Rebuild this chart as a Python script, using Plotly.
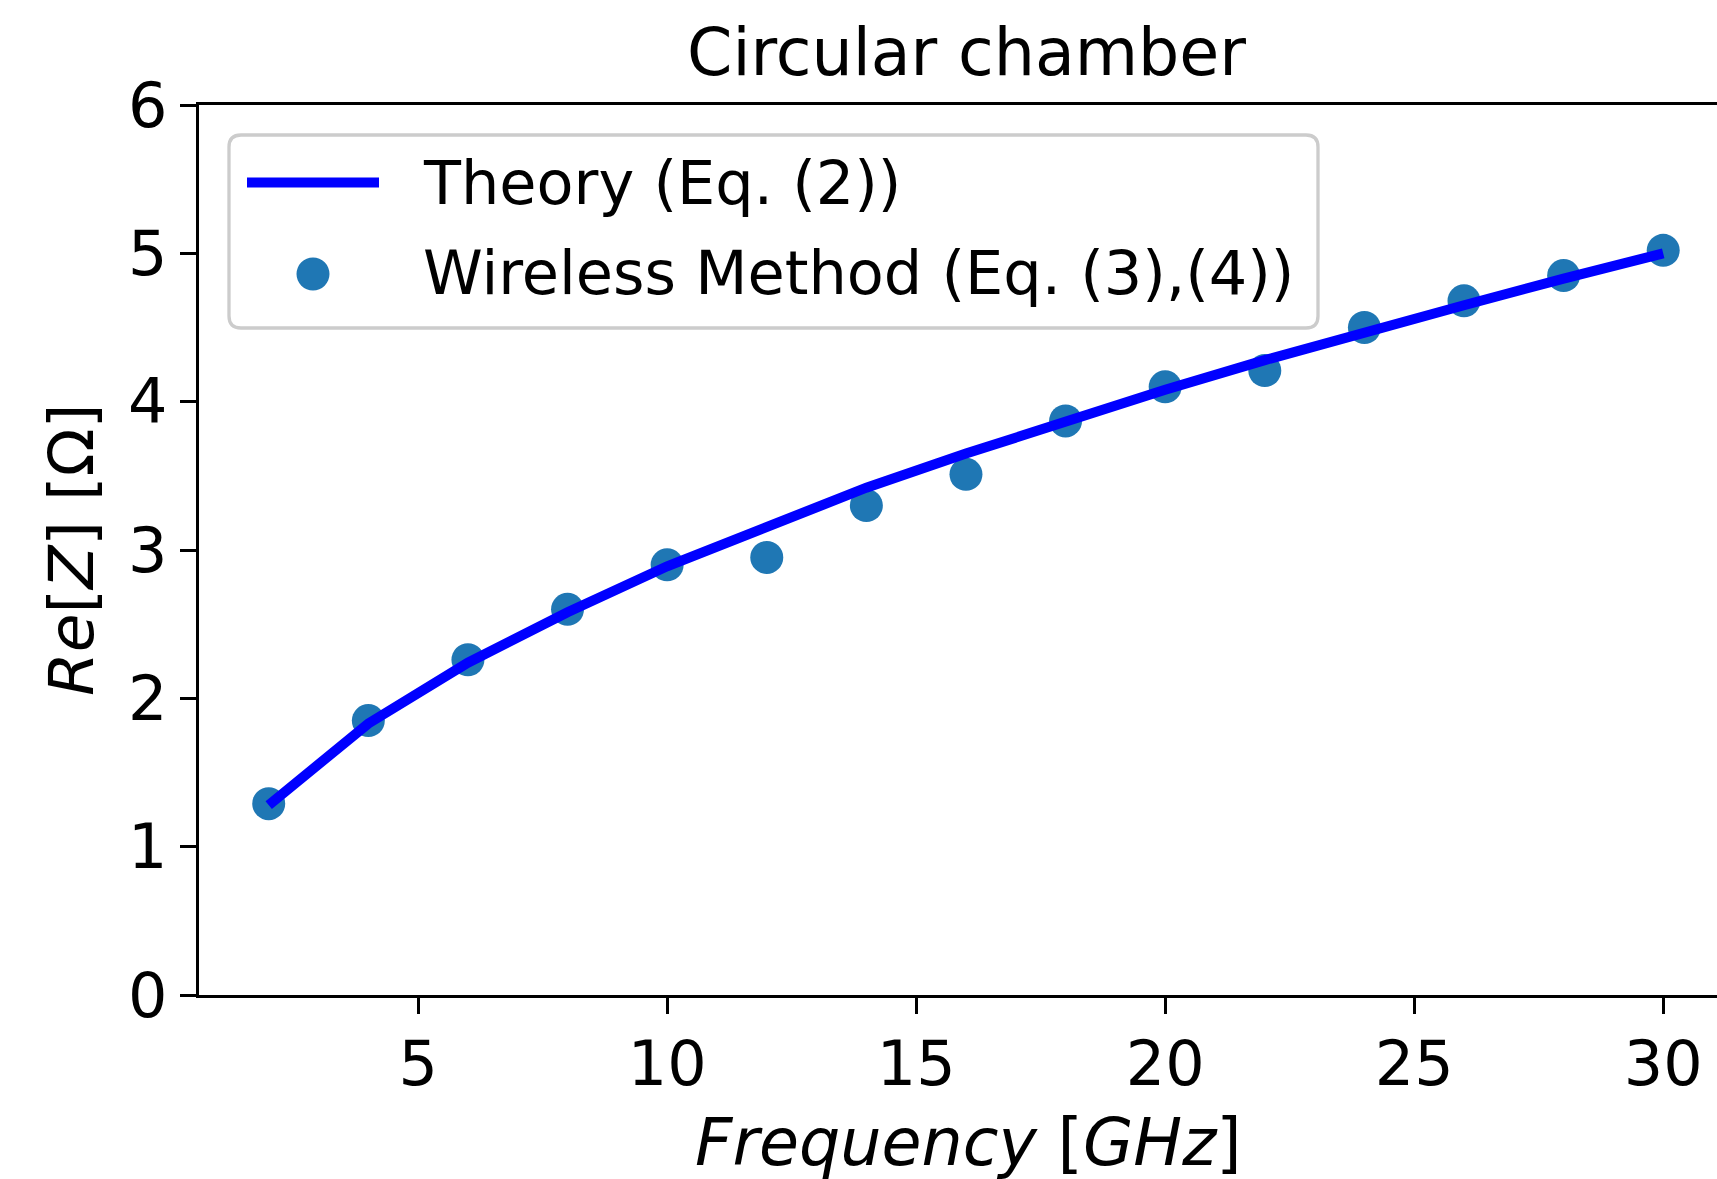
import plotly.graph_objects as go

# ---- data ----
freq_theory = [2, 4, 6, 8, 10, 12, 14, 16, 18, 20, 22, 24, 26, 28, 30]
re_theory = [1.28, 1.83, 2.24, 2.58, 2.89, 3.16, 3.42, 3.65, 3.87, 4.08, 4.28, 4.47, 4.65, 4.83, 5.00]

freq_wireless = [2, 4, 6, 8, 10, 12, 14, 16, 18, 20, 22, 24, 26, 28, 30]
re_wireless = [1.29, 1.85, 2.26, 2.60, 2.90, 2.95, 3.30, 3.51, 3.87, 4.10, 4.21, 4.50, 4.68, 4.85, 5.02]

x_ticks = [5, 10, 15, 20, 25, 30]
y_ticks = [0, 1, 2, 3, 4, 5, 6]

title_text = "Circular chamber"
x_label = "<i>Frequency</i> [<i>GHz</i>]"
y_label = "<i>Re</i>[<i>Z</i>] [Ω]"
legend_labels = ["Theory (Eq. (2))", "Wireless Method (Eq. (3),(4))"]

# ---- layout geometry (pixels) ----
W, H = 1717, 1179
L, T, B, R = 199, 105, 995, 1717
PW, PH = R - L, B - T
FONT = "DejaVu Sans"
FS_TICK = 62
FS_LEG = 60.5
FS_XLAB = 65
FS_YLAB = 63
FS_TITLE = 65


def px(x):
    return (x - L) / PW


def py(y):
    return (B - y) / PH


fig = go.Figure()

fig.add_trace(go.Scatter(
    x=freq_wireless, y=re_wireless, mode="markers",
    marker=dict(color="#1f77b4", size=33, line=dict(width=0)),
    name=legend_labels[1], showlegend=False, cliponaxis=False,
))
fig.add_trace(go.Scatter(
    x=freq_theory, y=re_theory, mode="lines",
    line=dict(color="#0000ff", width=10),
    name=legend_labels[0], showlegend=False,
))

# ---- custom legend (matplotlib look) ----
lx0, lx1, ly0, ly1, rr = 229, 1318, 135, 328, 12


def rounded_rect(x0, y0, x1, y1, r):
    pts = [
        f"M {px(x0 + r)},{py(y0)}",
        f"L {px(x1 - r)},{py(y0)}",
        f"Q {px(x1)},{py(y0)} {px(x1)},{py(y0 + r)}",
        f"L {px(x1)},{py(y1 - r)}",
        f"Q {px(x1)},{py(y1)} {px(x1 - r)},{py(y1)}",
        f"L {px(x0 + r)},{py(y1)}",
        f"Q {px(x0)},{py(y1)} {px(x0)},{py(y1 - r)}",
        f"L {px(x0)},{py(y0 + r)}",
        f"Q {px(x0)},{py(y0)} {px(x0 + r)},{py(y0)}",
        "Z",
    ]
    return " ".join(pts)


shapes = [
    dict(type="path", xref="paper", yref="paper", path=rounded_rect(lx0, ly0, lx1, ly1, rr),
         fillcolor="rgba(255,255,255,0.8)", line=dict(color="#cccccc", width=3.3), layer="above"),
    dict(type="line", xref="paper", yref="paper", x0=px(247), x1=px(379), y0=py(182.5), y1=py(182.5),
         line=dict(color="#0000ff", width=10), layer="above"),
    dict(type="circle", xref="paper", yref="paper", x0=px(313 - 16.5), x1=px(313 + 16.5),
         y0=py(274 - 16.5), y1=py(274 + 16.5), fillcolor="#1f77b4", line=dict(width=0), layer="above"),
]

annotations = [
    dict(text=legend_labels[0], xref="paper", yref="paper", x=px(421), y=py(183),
         xanchor="left", yanchor="middle", showarrow=False, font=dict(family=FONT, size=FS_LEG, color="black")),
    dict(text=legend_labels[1], xref="paper", yref="paper", x=px(421), y=py(273),
         xanchor="left", yanchor="middle", showarrow=False, font=dict(family=FONT, size=FS_LEG, color="black")),
    dict(text=x_label, xref="paper", yref="paper", x=px(968), y=py(1142),
         xanchor="center", yanchor="middle", showarrow=False, font=dict(family=FONT, size=FS_XLAB, color="black")),
    dict(text=y_label, xref="paper", yref="paper", x=px(71), y=py(550), textangle=-90,
         xanchor="center", yanchor="middle", showarrow=False, font=dict(family=FONT, size=FS_YLAB, color="black")),
    dict(text=title_text, xref="paper", yref="paper", x=px(966), y=py(53),
         xanchor="center", yanchor="middle", showarrow=False, font=dict(family=FONT, size=FS_TITLE, color="black")),
]

fig.update_layout(
    width=W, height=H,
    margin=dict(l=L, r=W - R, t=T, b=H - B, pad=0),
    paper_bgcolor="white", plot_bgcolor="white",
    font=dict(family=FONT, size=FS_TICK, color="black"),
    showlegend=False,
    shapes=shapes,
    annotations=annotations,
    xaxis=dict(
        range=[0.6, 31.08], tickvals=x_ticks, ticktext=[str(v) for v in x_ticks],
        showline=True, linecolor="black", linewidth=3.3, mirror=True,
        ticks="outside", ticklen=16, tickwidth=3.3, tickcolor="black",
        showgrid=False, zeroline=False, ticklabelstandoff=-4,
        tickfont=dict(family=FONT, size=FS_TICK, color="black"),
    ),
    yaxis=dict(
        range=[0, 6], tickvals=y_ticks, ticktext=[str(v) for v in y_ticks],
        showline=True, linecolor="black", linewidth=3.3, mirror=False,
        ticks="outside", ticklen=16, tickwidth=3.3, tickcolor="black",
        showgrid=False, zeroline=False, ticklabelstandoff=0,
        tickfont=dict(family=FONT, size=FS_TICK, color="black"),
    ),
)

fig.write_html("out.html")
